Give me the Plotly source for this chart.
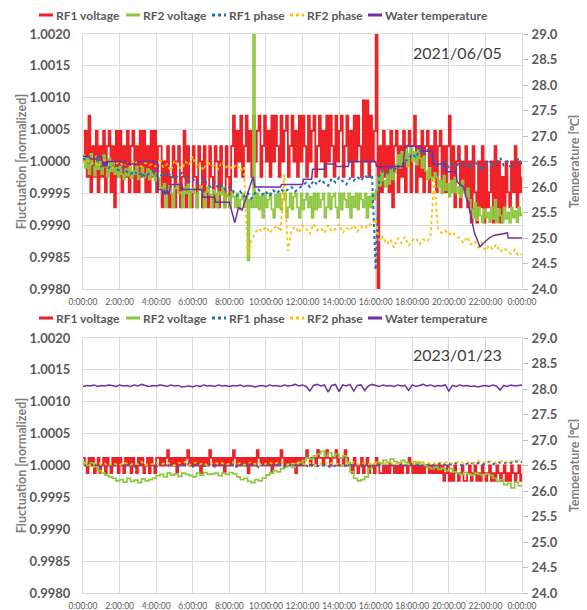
import plotly.graph_objects as go

# ---------------- data ----------------
# Time grid: fine series sampled every 0.1 h, coarse series every 0.2 h (hours of the day)
FINE_STEP = 0.1
COARSE_STEP = 0.2
SCALE = 1e-5   # fluctuation values below are offsets from 1.0 in units of 1e-5

time_ticks = [0, 2, 4, 6, 8, 10, 12, 14, 16, 18, 20, 22, 24]
time_labels = ["0:00:00", "2:00:00", "4:00:00", "6:00:00", "8:00:00", "10:00:00", "12:00:00",
               "14:00:00", "16:00:00", "18:00:00", "20:00:00", "22:00:00", "0:00:00"]
fluct_ticks = [0.9980, 0.9985, 0.9990, 0.9995, 1.0000, 1.0005, 1.0010, 1.0015, 1.0020]
temp_ticks = [24.0, 24.5, 25.0, 25.5, 26.0, 26.5, 27.0, 27.5, 28.0, 28.5, 29.0]

series_names = ["RF1 voltage", "RF2 voltage", "RF1 phase", "RF2 phase", "Water temperature"]
panel_dates = ["2021/06/05", "2023/01/23"]

# ---- 2021/06/05 (0.1 h samples) ----
rf1_voltage_2021 = [
    0, 48, -24, 72, -48, 24, -24, 48, -48, 24,
    -24, 48, -48, 24, 48, -48, 24, -72, 48, -24,
    48, -48, 24, -24, 48, -48, 24, 48, -48, 24,
    -48, 48, -24, 48, -48, 24, -48, 48, -24, 48,
    -48, 24,
    24, -72, 0, -48, 24, -72, -24, 24, -72, 0,
    24, -72, -24, 48, -72, 24, -48, -72, 24, -24,
    -72, 24, 0, -72, 24, -48, -72, 24, -24, -72,
    24, 0, -72, 24, -48, -72, 24, -24, -72, 24,
    72, -24, 48, 0, 72, -24, 24, 72, 0, 48,
    -24, 72, 0, 48, 72, -24, 24, 72, 0, 48,
    -24, 72, 0, 72, 24, -24, 72, 0, 48, 72,
    -24, 24, 72, 0, 48, -24, 72, 0, 72, 24,
    -24, 72, 0, 48, 72, -24, 24, 72, 0, 48,
    -24, 72, 0, 72, 24, -24, 72, 0, 48, 72,
    -24, 24, 72, 0, 48, -24, 72, 0, 72, 24,
    -24, 96, 0, 96, -24, 72, 0, 48,
    300, -300,
    24, -48, 48, -24, 24, -48, 48, -72, 24, 48,
    -48, 24, -24, 48, -48, 24, 48, -48, 24, 72,
    -48, 24, -24, 48, -48, 24, 48, -48, 24, -24,
    48, -48, 24, 48, -48, 24,
    -48, 24, 72, -48, 24, -72, 0, 24, -72, 0,
    -48, 24, -72, 0, -96, 24, -48, -96, 0, -72,
    24, -96, 0, -72, -48, 0, -96, 24, -72, 0,
    -96, -24, -72, 0, -48, -72, 0, -48, 24, -72,
    0, -48, -24,
]
rf2_voltage_2021 = [
    10, -10, 5, -20, 12, -5, -22, 8, -12, 0,
    -20, 10, -8, -24, 5, -15, 0, -20,
    -10, -25, -8, -20, -28, -12, -22, -10, -26, -15,
    -20, -8, -28, -18, -10, -25, -20, -12, -28, -15,
    -22, -30, -18, -26,
    -40, -50, -35, -72, -45, -38, -50, -72, -42, -36,
    -50, -48, -72, -40, -50, -36, -72, -48, -42, -50,
    -72, -45, -38, -50, -72, -48, -40, -52, -72, -45,
    -50, -72, -48, -52, -40, -72, -50, -55, -72, -48,
    -55, -72, -50, -75, -60, -50, -72, -55,
    -155, -60, -72, 300,
    -72, -50, -75, -55, -88, -50, -72, -60, -50, -75,
    -88, -52, -72, -50, -75, -60, -50, -88, -72, -50,
    -75, -55, -50, -72, -88, -50, -75, -60, -50, -72,
    -55, -88, -50, -75, -50, -72, -60, -50, -88, -72,
    -50, -75, -55, -50, -72, -88, -50, -75, -50, -60,
    -72, -50, -88, -55, -72, -50, -75, -50, -60, -72,
    -50, -88, -55, -72, -50, -60,
    -45, -25, -38, -15, -30, -40, -20, -35, -12, -28, -18,
    -5, 10, -10, 15, 0, 20, -8, 12, 22, 0, 15, -5, 18, 5, -10, 8,
    -15, -28, -10, -25, -30, -18,
    -25, -40, -30, -50, -22, -45, -35, -55, -30, -48, -25, -50, -40, -56, -30, -48, -55, -42,
    -60, -75, -88, -65, -92, -72, -85, -95, -75, -88,
    -80, -95, -72, -90, -60, -96, -75, -85, -96, -72,
    -90, -80, -96, -72, -88, -78, -95, -72, -85, -80,
]
# 0.2 h samples
rf1_phase_2021 = [
    5, 0, -3, -6, 2, -8, -4, -10, -5, -12, -14, -9, -16, -20, -15, -22, -17, -24, -19, -15,
    -22, -25, -17, -24, -19, -28, -22, -18, -26, -32, -27, -34, -30, -26, -36, -40, -33, -42, -37, -45,
    -40, -46, -54, -47, -55, -49, -58, -50, -44, -52, -47, -54, -45, -50, -43, -48, -44, -40, -47, -42,
    -38, -33, -40, -30, -36, -28, -34, -38, -27, -33, -25, -31, -36, -26, -30, -24, -30, -22, -27, -20,
    -170,
    -22, -14, -18, -10, -14, -6, -10, 0, 5, 12, 6, 18, 12, 20, 8, 2, -6, -10, 0,
    -10, -4, -12, 4, -8, -2, -10, 0, -6, -14, -4, 2, -8, -2, 6, -6, 0, -10, -2, 4, -4,
]
rf2_phase_2021 = [
    -2, 3, -5, 0, -8, -3, 2, -6, -10, -4, 0, -7, -3, -9, 2, -5, -8, -2, -6, -4,
    -8, 5, -10, -4, -15, 2, -8, -12, 0, -6, 8, -10, -4, -14, 3, -8, -5, -12, 0, -9,
    -6, -12, -4, -15, -8,
    -148, -125, -112,
    -105, -110, -102, -112, -106, -100, -110,
    -20, -140,
    -108, -102, -112, -100, -106, -114, -98, -108, -104, -112, -100, -110, -106, -98, -112,
    -104, -108, -100, -110, -102, -106, -98, -100,
    -90,
    -125, -118, -130, -122, -135, -120, -128, -118, -132, -124, -120, -130, -122, -126, -118,
    -25,
    -105, -112, -108, -115, -110, -118,
    -120, -128, -118, -130, -125,
    -135, -128, -140, -132, -138, -130, -142, -136, -140, -145, -138, -148, -145,
]
# water temperature (°C): stepped record, (hour, value) pairs
water_hours_2021 = [0, 0.35, 0.4, 0.75, 0.8, 1.0, 1.05, 1.1, 1.15, 1.2, 1.25, 1.3, 1.35, 2.3, 2.35,
                    3.0, 3.05, 4.05, 4.1, 4.3, 4.35, 4.45, 4.5, 4.6, 4.65, 4.75, 4.8, 5.4, 5.45,
                    6.5, 6.55, 7.2, 7.25, 8.0, 8.3, 8.5, 8.7, 9.3, 9.4, 10.8, 10.85, 12.0, 12.05,
                    12.5, 12.55, 13.2, 13.25, 13.8, 13.85, 14.5, 14.55, 16.0, 16.05, 17.5, 17.6,
                    18.5, 18.55, 19.1, 19.15, 19.8, 19.85, 20.4, 20.45, 20.8, 21.1, 21.4, 21.7,
                    22.2, 22.45, 23.2, 23.25, 24.0]
water_temp_2021 = [26.6, 26.6, 26.55, 26.55, 26.6, 26.6, 26.5, 26.4, 26.5, 26.4, 26.5, 26.4, 26.5, 26.5, 26.45,
                   26.45, 26.5, 26.5, 25.95, 25.95, 25.85, 25.95, 25.85, 25.95, 25.85, 25.95, 26.05, 26.05, 25.95,
                   25.95, 25.8, 25.8, 25.7, 25.7, 25.3, 25.6, 25.55, 26.2, 26.0, 26.0, 26.05, 26.05, 26.15,
                   26.15, 26.35, 26.35, 26.45, 26.45, 26.4, 26.4, 26.5, 26.5, 26.4, 26.4, 26.8,
                   26.8, 26.7, 26.7, 26.45, 26.45, 26.3, 26.3, 26.1, 26.0, 25.6, 25.1, 24.83,
                   25.0, 25.05, 25.1, 25.0, 25.0]

# ---- 2023/01/23 ----
# RF1 voltage: 0.1 h samples
rf1_voltage_2023 = [
    12, 0, -12, 12, 0, 12, -12, 0, 12, -12,
    0, 12, -12, 12, 0, -12, 12, 0, 12, -12,
    12, 0, -12, 12, 0, 12, -12, 12, 0, -12,
    12, 0, 12, -12, 0, 12, -12, 12, 0, -12,
    12,
    12, 0, 12, 0, 12, 24, 0, 12, 0, 12,
    -12, 12, 0, 12, 0, 12, 24, 0, 12, 0,
    12, 0, 12, -12, 12, 0, 12, 0, 24, 12,
    0, 12, 0, 12, 0, 12, -12, 12, 0, 12,
    0, 24, 12, 0, 12, 0, 12, 0, 12, -12,
    12, 0, 12, 0, 24, 12, 0, 12, 0, 12,
    0, 12, -12, 12, 0, 12, 0, 24, 12, 0,
    12, 0, 12, 0, 12, -12, 12, 0, 12, 0,
    12, 24, 12, 0, 12, 12, 0, 24, 12, 12,
    0, 12, 24, 12, 0, 12, 12, 24, 0, 12,
    12, 0, 24, 12, 0,
    0, -12, 12, 0, -12, 0, 12, -12, 0, 12,
    -12, 0, 0, -12, 12, 0, -12,
    -12, 0, -12, 0, -12, 0, 0, -12, 0, -12,
    0, -12, 0, 0, -12, 12, 0, -12, 0, -12,
    0, -12, 0, -12, 0, 0, -12, 0, -12, 0,
    -12, 0,
    -12, 0, -24, -12, 0, -24, -12, -24, 0, -12,
    -24, -12, 0, -24, -24, -12, 0, -24, -12, 0,
    -24, -12, -24, 0, -12, -24, -12, 0, -24, -12,
    -24, 0, -12, -24, -12, 0, -24, -12, -24, 0,
    -12, -24, -12, 0, -24, -12,
]
# the rest: 0.2 h samples
rf2_voltage_2023 = [
    5, 0, 4, -2,
    -8, -12, -15, -18, -20,
    -24, -22, -26, -20, -25, -23, -27, -21, -24, -22, -20,
    -16, -14, -18, -12, -15, -13, -17, -12, -14, -16, -18,
    -12, -15, -11, -14, -13, -12, -16, -12, -14, -11, -13,
    -18, -22, -20, -25, -27, -22, -24,
    -20, -15, -12, -8, -10, -5, -2, 2, -3, 3, 5,
    8, 12, 10, 15, 18, 22, 15, 20, 14, 18, 12, 15,
    5, -10, -20, -24, -22, -18,
    -5, 2, 5, 3, 8, 5, 10, 6, 4, 8, 5, 2, 6, 3, 5,
    0, -3, -5, -2, -6, -4, -8, -5,
    -10, -12, -14, -11, -13, -15, -12, -14, -16, -13, -15,
    -20, -25, -22, -30, -28, -35, -26, -32, -30,
]
rf1_phase_2023 = [
    3, -1, 2, 4, 0, -2, 3, 1, -3, 2, 0, 4, -1, 2, -2, 1, 3, -1, 0, 2,
    -2, 1, 3, 0, -1, 2, -3, 1, 0, 3, -2, 2, 1, -1, 0, 3, -2, 1, 2, -1,
    0, 2, -2, 1, 3, -1, 0, 2, -3, 1, 2, 0, -1, 3, 1, -2, 2, 0, 1, -1,
    2, 0, -2, 1, -1, 0, 2, -1, -3, 0, 1, -2, 0, 2, -1, 1, -2, 0, 2, -1,
    0, 2, -1, 1, 3, 0, -2, 2, 1, -1, 3, 0, 2, -1, 1, 3, 0, 2, 4, 1,
    3, 1, 4, 2, 0, 3, 5, 2, 4, 1, 3, 6, 2, 4, 5, 3, 6, 4, 7, 5, 6,
]
rf2_phase_2023 = [
    2, 4, 0, 3, 5, 1, 3, -1, 4, 2, 0, 5, 3, 1, 4, 2, 6, 0, 3, 2,
    4, 1, 3, 5, 2, 0, 4, 3, 6, 1, 3, 5, 2, 4, 0, 3, 5, 2, 4, 1,
    3, 5, 2, 4, 1, 3, 6, 2, 4, 0, 3, 5, 2, 4, 6, 3, 1, 4, 2, 5,
    3, 1, 4, 2, 0, 3, 5, 1, 4, 2, 3, 0, 4, 2, 5, 1, 3, 4, 2, 5,
    3, 6, 2, 4, 5, 1, 3, 6, 4, 2, 5, 3, 7, 4, 2, 5, 3, 6, 4, 5,
    6, 3, 5, 7, 4, 6, 3, 5, 8, 4, 6, 5, 7, 4, 6, 8, 5, 7, 6, 8, 7,
]
water_temp_2023 = [
    28.05, 28.07, 28.06, 28.08, 28.05, 28.07, 28.06, 28.08, 28.07, 28.05, 28.08, 28.06, 28.07, 28.05, 28.08, 28.06, 28.09, 28.07, 28.05, 28.07,
    28.06, 28.08, 28.07, 28.05, 28.08, 28.06, 28.07, 28.04, 28.05, 28.06, 28.04, 28.07, 28.05, 28.08, 28.06, 28.07, 28.05, 28.08, 28.06, 28.07,
    28.05, 28.07, 28.06, 28.08, 28.05, 28.07, 28.06, 28.04, 28.06, 28.07, 28.05, 28.08, 28.06, 28.07, 28.05, 28.08, 28.06, 28.07, 28.09, 28.06,
    28.08, 28.05, 27.96, 28.07, 28.09, 28.06, 28.08, 27.94, 28.07, 28.09, 27.95, 28.08, 28.06, 28.09, 27.96, 28.07, 28.08, 27.97, 28.06, 28.09,
    28.07, 28.05, 28.08, 28.06, 28.07, 28.05, 28.08, 28.06, 28.07, 27.97, 28.08, 28.05, 28.07, 28.09, 28.06, 28.08, 28.05, 28.07, 28.06, 28.08,
    27.96, 28.07, 28.05, 28.08, 28.06, 28.07, 28.05, 28.06, 28.04, 28.06, 28.07, 28.05, 28.08, 28.06, 27.98, 28.07, 28.05, 28.08, 28.06, 28.07, 28.08,
]

for arr, n in [(rf1_voltage_2021, 241), (rf2_voltage_2021, 241), (rf1_phase_2021, 121), (rf2_phase_2021, 121),
               (rf1_voltage_2023, 241), (rf2_voltage_2023, 121), (rf1_phase_2023, 121), (rf2_phase_2023, 121),
               (water_temp_2023, 121)]:
    assert len(arr) == n, (len(arr), n)
assert len(water_hours_2021) == len(water_temp_2021), (len(water_hours_2021), len(water_temp_2021))

# ---------------- styling ----------------
PAGE_PAD = 8                               # the page body offsets the figure by 8 px
W, H = 587 - PAGE_PAD, 610 - PAGE_PAD
ML, MR, MT, MB = 83 - PAGE_PAD, 65, 34 - PAGE_PAD, 17
PW, PH = W - ML - MR, H - MT - MB
FONT = "Lato"
GRID = "#D9D9D9"
TICK_C = "#595959"
TITLE_C = "#7F7F7F"
COLORS = {"RF1 voltage": "#EE1F25", "RF2 voltage": "#8DC63F", "RF1 phase": "#1F6FBF",
          "RF2 phase": "#FFC000", "Water temperature": "#7030A0"}
DASH = {"RF1 voltage": "solid", "RF2 voltage": "solid", "RF1 phase": "dot",
        "RF2 phase": "dot", "Water temperature": "solid"}
WIDTH = {"RF1 voltage": 1.8, "RF2 voltage": 1.7, "RF1 phase": 2.0,
         "RF2 phase": 1.8, "Water temperature": 1.5}
SHAPE = {"RF1 voltage": "hv", "RF2 voltage": "hv", "RF1 phase": "linear",
         "RF2 phase": "linear", "Water temperature": "linear"}

# legend layout in screen pixels (key line start; legend row centres)
LEGEND_KEY_X = [39, 126, 212, 290, 368]
LEGEND_ROW_Y = [15, 318]
KEY_LEN = 14


def px_x(px):   # screen pixel -> paper fraction
    return (px - PAGE_PAD - ML) / PW


def px_y(py):
    return (H - MB - (py - PAGE_PAD)) / PH


def grid_hours(n, step):
    return [round(i * step, 2) for i in range(n)]


def fluct(vals):
    return [1.0 + v * SCALE for v in vals]


fig = go.Figure()

panels = [
    dict(x="x", y="y", y2="y2",
         data=[(rf1_voltage_2021, FINE_STEP), (rf2_voltage_2021, FINE_STEP),
               (rf1_phase_2021, COARSE_STEP), (rf2_phase_2021, COARSE_STEP)],
         water=(water_hours_2021, water_temp_2021)),
    dict(x="x2", y="y3", y2="y4",
         data=[(rf1_voltage_2023, FINE_STEP), (rf2_voltage_2023, COARSE_STEP),
               (rf1_phase_2023, COARSE_STEP), (rf2_phase_2023, COARSE_STEP)],
         water=(grid_hours(len(water_temp_2023), COARSE_STEP), water_temp_2023)),
]

for p in panels:
    for name, (vals, step) in zip(series_names[:4], p["data"]):
        fig.add_trace(go.Scatter(
            x=grid_hours(len(vals), step), y=fluct(vals), name=name, mode="lines",
            line=dict(color=COLORS[name], width=WIDTH[name], dash=DASH[name],
                      shape=SHAPE[name], simplify=False),
            xaxis=p["x"], yaxis=p["y"], showlegend=False, hoverinfo="skip"))
    name = series_names[4]
    fig.add_trace(go.Scatter(
        x=p["water"][0], y=p["water"][1], name=name, mode="lines",
        line=dict(color=COLORS[name], width=WIDTH[name], simplify=False),
        xaxis=p["x"], yaxis=p["y2"], showlegend=False, hoverinfo="skip"))

# legends drawn as key lines + text above each panel
shapes, annotations = [], []
for row_y in LEGEND_ROW_Y:
    for name, kx in zip(series_names, LEGEND_KEY_X):
        shapes.append(dict(type="line", xref="paper", yref="paper",
                           x0=px_x(kx), x1=px_x(kx + KEY_LEN), y0=px_y(row_y), y1=px_y(row_y),
                           line=dict(color=COLORS[name], width=3,
                                     dash="dot" if DASH[name] == "dot" else "solid")))
        annotations.append(dict(text=name, xref="paper", yref="paper",
                                x=px_x(kx + KEY_LEN + 1.5), y=px_y(row_y),
                                xanchor="left", yanchor="middle", showarrow=False, borderpad=0,
                                font=dict(family=FONT, size=12, color=TICK_C, weight="bold")))

annotations += [
    dict(text=panel_dates[0], xref="x domain", yref="y domain", x=0.852, y=0.929,
         xanchor="center", yanchor="middle",
         showarrow=False, font=dict(family=FONT, size=16, color="#404040")),
    dict(text=panel_dates[1], xref="x2 domain", yref="y3 domain", x=0.852, y=0.937,
         xanchor="center", yanchor="middle",
         showarrow=False, font=dict(family=FONT, size=16, color="#404040")),
]

TOP_DOM = [px_y(289), 1.0]
BOT_DOM = [0.0, px_y(338)]

xcommon = dict(range=[0, 24], tickmode="array", tickvals=time_ticks, ticktext=time_labels,
               showgrid=True, gridcolor=GRID, gridwidth=1, zeroline=False,
               showline=True, linecolor=GRID, mirror=True, ticks="", tickangle=0,
               tickfont=dict(family=FONT, size=8.5, color=TICK_C), automargin=False,
               ticklabelstandoff=5, domain=[0, 1])
ycommon = dict(range=[0.9980, 1.0020], tickmode="array", tickvals=fluct_ticks, tickformat=".4f",
               showgrid=True, gridcolor=GRID, gridwidth=1, zeroline=False,
               showline=True, linecolor=GRID, mirror=True, ticks="",
               tickfont=dict(family=FONT, size=13, color=TICK_C, weight="bold"),
               ticklabelstandoff=9, automargin=False,
               title=dict(text="Fluctuation [normalized]", standoff=0,
                          font=dict(family=FONT, size=12.5, color=TITLE_C, weight="bold")))
y2common = dict(range=[24, 29], tickmode="array", tickvals=temp_ticks, tickformat=".1f",
                showgrid=False, zeroline=False, showline=True, linecolor=GRID,
                ticks="outside", ticklen=5, tickcolor="#BFBFBF", side="right",
                tickfont=dict(family=FONT, size=13, color=TICK_C, weight="bold"),
                ticklabelstandoff=1, automargin=False,
                title=dict(text="Temperature [℃]", standoff=13,
                           font=dict(family=FONT, size=12.5, color=TITLE_C, weight="bold")))

fig.update_layout(
    width=W, height=H, template="none",
    paper_bgcolor="white", plot_bgcolor="white",
    margin=dict(l=ML, r=MR, t=MT, b=MB, autoexpand=False),
    font=dict(family=FONT, color=TICK_C),
    showlegend=False,
    xaxis=dict(xcommon, anchor="y"),
    yaxis=dict(ycommon, domain=TOP_DOM, anchor="x"),
    yaxis2=dict(y2common, overlaying="y", anchor="x"),
    xaxis2=dict(xcommon, anchor="y3"),
    yaxis3=dict(ycommon, domain=BOT_DOM, anchor="x2"),
    yaxis4=dict(y2common, overlaying="y3", anchor="x2"),
    shapes=shapes,
    annotations=annotations,
)

fig.write_html("out.html")
